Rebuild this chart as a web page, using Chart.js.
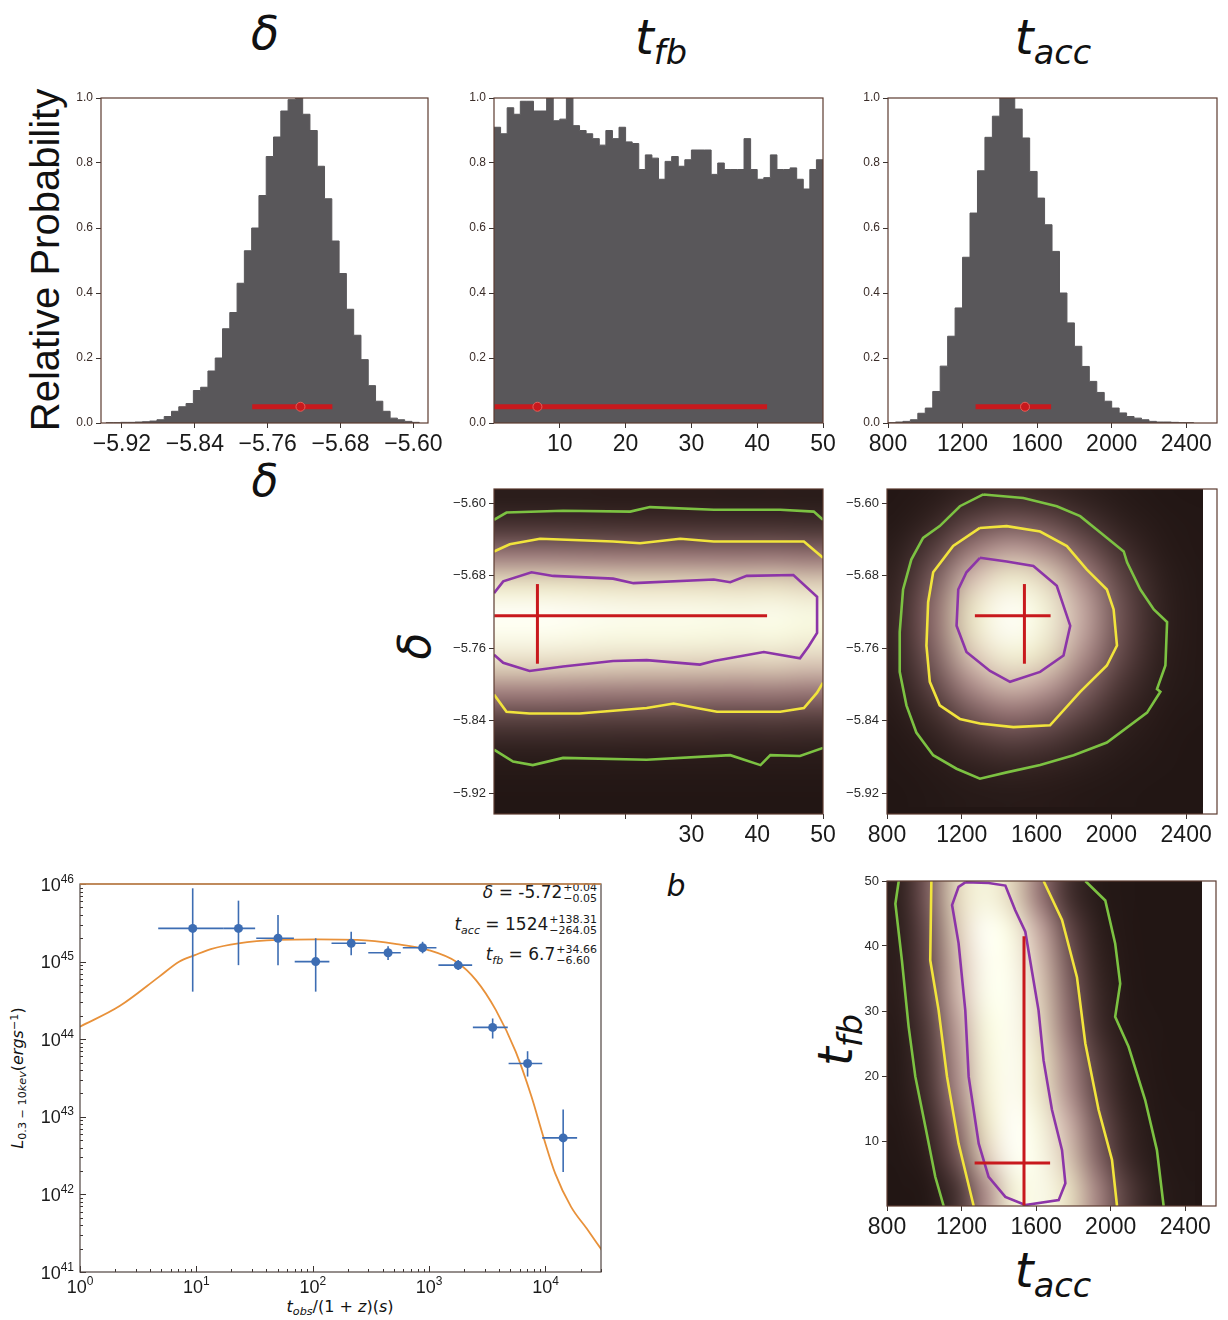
<!DOCTYPE html>
<html>
<head>
<meta charset="utf-8">
<title>Posterior corner plot and light curve</title>
<script src="https://cdn.jsdelivr.net/npm/chart.js@4.4.1/dist/chart.umd.min.js"></script>
<style>
  html, body { margin:0; padding:0; background:#fff; }
  body { position:relative; width:1228px; height:1320px; overflow:hidden; font-family:"Liberation Sans", Arial, sans-serif; color:#111; }
  canvas { position:absolute; }
  .t { position:absolute; transform:translate(-50%,-50%); white-space:nowrap; line-height:1; }
  .m { font-family:"DejaVu Sans", sans-serif; font-style:italic; }
  .t sub { font-size:0.7em; vertical-align:-0.3em; line-height:0; }
  .t sup { font-size:0.7em; vertical-align:0.45em; line-height:0; }
  .ann { position:absolute; right:631px; transform:translateY(-50%); white-space:nowrap; font-family:"DejaVu Sans", sans-serif; font-size:17px; line-height:1; color:#1a1a1a; }
  .ss { display:inline-block; vertical-align:middle; font-size:11px; line-height:11px; margin-left:1px; }
  .ss span { display:block; }
</style>
</head>
<body>

<div class="t m" style="left:265px;top:33px;font-size:46px">δ</div>
<div class="t m" style="left:661px;top:37px;font-size:48px">t<sub>fb</sub></div>
<div class="t m" style="left:1053px;top:37px;font-size:48px">t<sub>acc</sub></div>
<div class="t" style="left:45px;top:260px;font-size:40px;transform:translate(-50%,-50%) rotate(-90deg)">Relative Probability</div>
<div class="t m" style="left:265px;top:481px;font-size:44px">δ</div>
<div class="t m" style="left:415px;top:646px;font-size:44px;transform:translate(-50%,-50%) rotate(-90deg)">δ</div>
<div class="t m" style="left:676px;top:886px;font-size:30px">b</div>
<div class="t m" style="left:835px;top:1040px;font-size:48px;transform:translate(-50%,-50%) rotate(-90deg)">t<sub>fb</sub></div>
<div class="t m" style="left:1053px;top:1270px;font-size:48px">t<sub>acc</sub></div>

<div class="ann" style="top:893px"><span class="m">δ</span> = -5.72<span class="ss"><span>+0.04</span><span>−0.05</span></span></div>
<div class="ann" style="top:925px"><span class="m">t</span><sub style="font-size:11px" class="m">acc</sub> = 1524<span class="ss"><span>+138.31</span><span>−264.05</span></span></div>
<div class="ann" style="top:955px"><span class="m">t</span><sub style="font-size:11px" class="m">fb</sub> = 6.7<span class="ss"><span>+34.66</span><span>−6.60</span></span></div>
<div class="t" style="left:340px;top:1307px;font-size:16px;font-family:'DejaVu Sans'"><i>t</i><sub><i>obs</i></sub>/(1 + <i>z</i>)(<i>s</i>)</div>
<div class="t" style="left:18px;top:1078px;font-size:16px;font-family:'DejaVu Sans';transform:translate(-50%,-50%) rotate(-90deg)"><i>L</i><sub>0.3 − 10<i>kev</i></sub>(<i>ergs</i><sup>−1</sup>)</div>

<script>
// ---------------- data ----------------
// marginal histograms: relative probability per equal-width bin
const deltaBinStart = -5.9376, deltaBinWidth = 0.008;
const deltaHist = [0.001, 0.001, 0.002, 0.002, 0.003, 0.004, 0.006,
  0.01, 0.02, 0.036, 0.05, 0.06, 0.1, 0.11, 0.16, 0.2, 0.29, 0.34, 0.43, 0.53, 0.6,
  0.7, 0.82, 0.88, 0.96, 0.995, 1.0, 0.95, 0.9, 0.79, 0.69, 0.56, 0.46, 0.35, 0.27,
  0.195, 0.115, 0.067, 0.036, 0.015, 0.01, 0.005, 0.002];

const tfbBinStart = 0, tfbBinWidth = 1;
const tfbHist = [0.91, 0.89, 0.97, 0.95, 0.99, 0.99, 0.96, 0.96, 1.0, 0.93,
  0.935, 1.0, 0.915, 0.9, 0.89, 0.875, 0.855, 0.9, 0.875, 0.91,
  0.865, 0.86, 0.78, 0.825, 0.815, 0.75, 0.805, 0.82, 0.79, 0.81,
  0.84, 0.84, 0.84, 0.765, 0.8, 0.78, 0.78, 0.78, 0.875, 0.78,
  0.75, 0.755, 0.825, 0.78, 0.78, 0.785, 0.75, 0.72, 0.78, 0.81];

const taccBinStart = 800, taccBinWidth = 40;
const taccHist = [0.001, 0.003, 0.005, 0.01, 0.03, 0.046, 0.097, 0.175, 0.267, 0.354,
  0.51, 0.646, 0.776, 0.879, 0.944, 1.0, 1.0, 0.966, 0.877, 0.774,
  0.692, 0.61, 0.528, 0.4, 0.308, 0.236, 0.174, 0.128, 0.094, 0.067,
  0.046, 0.031, 0.02, 0.015, 0.01, 0.005, 0.003, 0.003, 0.002, 0.001, 0.001];

// best fit with range: [low, best, high]
const deltaFit = [-5.777, -5.724, -5.689];
const tfbFit = [0.05, 6.6, 41.5];
const taccFit = [1270, 1535, 1675];
const fitBarLevel = 0.05;

// tick values
const probTicks = [0, 0.2, 0.4, 0.6, 0.8, 1.0];
const deltaTicks = [-5.92, -5.84, -5.76, -5.68, -5.60];
const tfbTicks = [10, 20, 30, 40, 50];
const taccTicks = [800, 1200, 1600, 2000, 2400];
const lcXDecades = [0, 1, 2, 3, 4];
const lcYDecades = [41, 42, 43, 44, 45, 46];

// 2D density grids (rows top to bottom)
const p4Cols = [2.5, 7.5, 12.5, 17.5, 22.5, 27.5, 32.5, 37.5, 42.5, 47.5];
const p4Rows = [-5.60, -5.63, -5.66, -5.69, -5.72, -5.75, -5.78, -5.81, -5.84, -5.87, -5.90, -5.93];
const p4Grid = [
  [0.025, 0.025, 0.025, 0.024, 0.024, 0.024, 0.024, 0.023, 0.024, 0.022],
  [0.114, 0.114, 0.112, 0.109, 0.108, 0.108, 0.107, 0.106, 0.107, 0.103],
  [0.351, 0.351, 0.344, 0.337, 0.333, 0.333, 0.330, 0.326, 0.330, 0.316],
  [0.721, 0.721, 0.707, 0.692, 0.685, 0.685, 0.678, 0.671, 0.678, 0.649],
  [0.986, 0.986, 0.966, 0.947, 0.937, 0.937, 0.927, 0.917, 0.927, 0.887],
  [0.923, 0.923, 0.905, 0.886, 0.877, 0.877, 0.868, 0.858, 0.868, 0.831],
  [0.640, 0.640, 0.627, 0.614, 0.608, 0.608, 0.602, 0.595, 0.602, 0.576],
  [0.329, 0.329, 0.322, 0.316, 0.313, 0.313, 0.309, 0.306, 0.309, 0.296],
  [0.126, 0.126, 0.123, 0.121, 0.120, 0.120, 0.118, 0.117, 0.118, 0.113],
  [0.036, 0.036, 0.035, 0.035, 0.034, 0.034, 0.034, 0.033, 0.034, 0.032],
  [0.008, 0.008, 0.007, 0.007, 0.007, 0.007, 0.007, 0.007, 0.007, 0.007],
  [0.001, 0.001, 0.001, 0.001, 0.001, 0.001, 0.001, 0.001, 0.001, 0.001]
];

const p5Cols = [850, 1050, 1250, 1450, 1650, 1850, 2050, 2250, 2450];
const p5Rows = [-5.59, -5.62, -5.65, -5.68, -5.71, -5.74, -5.77, -5.80, -5.83, -5.86, -5.89, -5.92];
const p5Grid = [
  [0.004, 0.018, 0.047, 0.067, 0.056, 0.032, 0.012, 0.003, 0.001],
  [0.011, 0.053, 0.138, 0.194, 0.163, 0.092, 0.035, 0.009, 0.002],
  [0.025, 0.119, 0.309, 0.434, 0.364, 0.206, 0.079, 0.021, 0.004],
  [0.042, 0.203, 0.527, 0.741, 0.622, 0.352, 0.135, 0.035, 0.006],
  [0.055, 0.264, 0.687, 0.966, 0.811, 0.458, 0.176, 0.046, 0.008],
  [0.056, 0.267, 0.694, 0.975, 0.819, 0.463, 0.178, 0.046, 0.008],
  [0.046, 0.220, 0.571, 0.803, 0.674, 0.381, 0.147, 0.038, 0.007],
  [0.031, 0.149, 0.387, 0.543, 0.456, 0.258, 0.099, 0.026, 0.005],
  [0.017, 0.083, 0.217, 0.304, 0.255, 0.144, 0.056, 0.014, 0.003],
  [0.008, 0.038, 0.099, 0.139, 0.117, 0.066, 0.025, 0.007, 0.001],
  [0.003, 0.014, 0.037, 0.053, 0.044, 0.025, 0.010, 0.003, 0.000],
  [0.001, 0.005, 0.012, 0.016, 0.014, 0.008, 0.003, 0.001, 0.000]
];

const p6Cols = [875, 1025, 1175, 1325, 1475, 1625, 1775, 1925, 2075, 2225, 2375];
const p6Rows = [47.5, 42.5, 37.5, 32.5, 27.5, 22.5, 17.5, 12.5, 7.5, 2.5];
const p6Grid = [
  [0.040, 0.233, 0.654, 0.878, 0.656, 0.301, 0.085, 0.015, 0.002, 0, 0],
  [0.032, 0.194, 0.607, 0.982, 0.867, 0.468, 0.155, 0.032, 0.004, 0, 0],
  [0.029, 0.172, 0.550, 0.952, 0.920, 0.552, 0.208, 0.049, 0.007, 0.001, 0],
  [0.027, 0.157, 0.514, 0.929, 0.946, 0.607, 0.249, 0.066, 0.011, 0.001, 0],
  [0.020, 0.126, 0.445, 0.870, 0.951, 0.647, 0.282, 0.079, 0.014, 0.002, 0],
  [0.016, 0.106, 0.399, 0.827, 0.957, 0.709, 0.355, 0.121, 0.028, 0.004, 0.001],
  [0.013, 0.090, 0.359, 0.790, 0.965, 0.752, 0.402, 0.148, 0.038, 0.007, 0.001],
  [0.007, 0.058, 0.271, 0.699, 0.997, 0.859, 0.508, 0.207, 0.058, 0.011, 0.002],
  [0.003, 0.034, 0.192, 0.591, 0.972, 0.912, 0.582, 0.255, 0.077, 0.016, 0.002],
  [0.001, 0.011, 0.092, 0.381, 0.821, 0.931, 0.690, 0.357, 0.129, 0.032, 0.006]
];

// contours [x, y]
const p4GreenTop = [[0,-5.618],[1.9,-5.610],[10.5,-5.608],[20.7,-5.609],[23.7,-5.604],[33.4,-5.607],[43.5,-5.607],[48.6,-5.609],[50,-5.618]];
const p4YellowTop = [[0,-5.653],[2.4,-5.645],[7,-5.639],[18.1,-5.642],[22.2,-5.644],[28.3,-5.639],[33.4,-5.642],[47.1,-5.642],[50,-5.660]];
const p4Purple = [[0,-5.699],[1.4,-5.686],[5.7,-5.676],[9,-5.680],[18.1,-5.683],[21.2,-5.688],[33.4,-5.684],[35.9,-5.687],[38.4,-5.680],[45.5,-5.679],[49.1,-5.703],[49.1,-5.743],[47.8,-5.758],[46.5,-5.771],[41,-5.764],[33.4,-5.774],[31.3,-5.778],[23.2,-5.773],[18.1,-5.774],[10.5,-5.780],[5.4,-5.785],[1.4,-5.776],[0,-5.767]];
const p4YellowBot = [[0,-5.811],[1.9,-5.830],[5.4,-5.832],[13,-5.832],[23.2,-5.826],[27.3,-5.821],[30.8,-5.826],[33.9,-5.830],[43.5,-5.830],[47.1,-5.826],[49.1,-5.809],[50,-5.798]];
const p4GreenBot = [[0,-5.872],[2.9,-5.885],[5.9,-5.889],[10.5,-5.881],[23.2,-5.883],[35.9,-5.878],[40.5,-5.889],[42,-5.878],[46.5,-5.879],[50,-5.870]];

const p5Green = [[1315,-5.590],[1529,-5.594],[1708,-5.603],[1833,-5.614],[1941,-5.632],[2066,-5.653],[2084,-5.665],[2155,-5.695],[2227,-5.717],[2298,-5.731],[2289,-5.779],[2244,-5.805],[2262,-5.808],[2191,-5.831],[1976,-5.864],[1798,-5.878],[1619,-5.889],[1440,-5.897],[1297,-5.904],[1172,-5.893],[1047,-5.878],[957,-5.853],[904,-5.823],[868,-5.786],[868,-5.742],[886,-5.695],[930,-5.662],[993,-5.638],[1082,-5.625],[1190,-5.603],[1315,-5.590]];
const p5Yellow = [[1297,-5.627],[1440,-5.625],[1619,-5.631],[1762,-5.647],[1869,-5.673],[1976,-5.695],[2012,-5.717],[2030,-5.757],[1976,-5.779],[1833,-5.808],[1672,-5.845],[1476,-5.847],[1297,-5.843],[1190,-5.838],[1082,-5.823],[1029,-5.797],[1011,-5.757],[1020,-5.709],[1047,-5.676],[1154,-5.647],[1297,-5.627]];
const p5Purple = [[1297,-5.660],[1440,-5.664],[1583,-5.669],[1708,-5.691],[1780,-5.735],[1744,-5.768],[1619,-5.786],[1458,-5.797],[1351,-5.785],[1225,-5.764],[1172,-5.735],[1181,-5.695],[1225,-5.676],[1297,-5.660]];

const p6GreenL = [[863,50],[845,46.5],[880,37.8],[916,27.6],[952,19.9],[1006,12.2],[1059,4.5],[1104,0]];
const p6GreenR = [[1864,50],[1971,47],[2024,40.4],[2051,34.2],[2024,29.1],[2096,24.5],[2185,16.3],[2248,8.6],[2284,0]];
const p6YellowL = [[1038,50],[1032,37.8],[1077,30.1],[1122,19.9],[1184,9.6],[1265,0]];
const p6YellowR = [[1640,50],[1739,44],[1819,35.2],[1864,25],[1935,14.8],[2007,7.1],[2034,0]];
const p6Purple = [[1220,49.8],[1345,49.7],[1435,49.3],[1488,45.5],[1542,42.2],[1613,30.1],[1640,22.4],[1685,14.8],[1739,8.6],[1757,3.5],[1721,0.9],[1542,0.15],[1435,1.4],[1345,4.5],[1292,9.6],[1238,19.9],[1220,30.1],[1184,40.4],[1149,46.3],[1184,49.1],[1220,49.8]];

// light curve
const lcTime   = [9.3, 23, 50.3, 106, 214, 444, 879, 1778, 3516, 7017, 14190];
const lcTimeLo = [4.7, 17, 32.7, 70, 145, 300, 594, 1202, 2377, 4820, 9376];
const lcTimeHi = [17, 32, 68.9, 139, 286, 571, 1156, 2344, 4742, 9376, 18700];
const lcLum    = [2.68e45, 2.68e45, 2.0e45, 1.0e45, 1.72e45, 1.30e45, 1.51e45, 9.0e44, 1.42e44, 4.87e43, 5.35e42];
const lcLumLo  = [4.1e44, 9.0e44, 9.0e44, 4.1e44, 1.21e45, 1.05e45, 1.28e45, 7.8e44, 1.02e44, 3.3e43, 1.95e42];
const lcLumHi  = [8.8e45, 6.1e45, 4.0e45, 2.0e45, 2.43e45, 1.58e45, 1.8e45, 1.05e45, 1.85e44, 7.0e43, 1.24e43];
const modelTime = [1, 2.19, 4.8, 7.1, 9.7, 13.3, 23, 50, 110, 241, 528, 988, 1711, 2529, 3750, 5547, 7590, 9600, 12140, 16600, 22700, 30600];
const modelLum  = [1.45e44, 2.67e44, 6.4e44, 9.96e44, 1.21e45, 1.45e45, 1.72e45, 1.9e45, 1.93e45, 1.9e45, 1.68e45, 1.41e45, 9.96e44, 5.78e44, 2.37e44, 6.9e43, 1.81e43, 5.5e42, 1.85e42, 6.9e41, 3.6e41, 1.9e41];

// ---------------- styles ----------------
const HIST = '#59575a', RED = '#c8191d', GREEN = '#7cc242', YELLOW = '#f1e43c', PURPLE = '#8c35a8';
const BLUE = '#3d6db3', ORANGE = '#e8913a', FRAME = '#5c3b30';
const CMAP = [[0, 34, 22, 20], [0.05, 54, 37, 35], [0.15, 98, 72, 72], [0.3, 150, 116, 116],
  [0.5, 202, 174, 166], [0.7, 232, 224, 194], [0.88, 247, 246, 222], [1, 255, 255, 248]];

Chart.defaults.font.family = '"Liberation Sans", Arial, sans-serif';
Chart.defaults.elements.point.radius = 0;
Chart.defaults.elements.line.tension = 0;

function cmap(v) {
  v = Math.max(0, Math.min(1, v));
  for (let i = 1; i < CMAP.length; i++) {
    if (v <= CMAP[i][0]) {
      const a = CMAP[i - 1], b = CMAP[i], f = (v - a[0]) / (b[0] - a[0]);
      return [1, 2, 3].map(k => Math.round(a[k] + f * (b[k] - a[k])));
    }
  }
  return CMAP[CMAP.length - 1].slice(1);
}

const pts = arr => arr.map(p => ({x: p[0], y: p[1]}));
const fmtMinus = v => v.toFixed(2).replace('-', '\u2212');
function zeroPad(s) { s.paddingLeft = s.paddingRight = s.paddingTop = s.paddingBottom = 0; }

function axis(min, max, tickList, fmt, size, color) {
  return {
    type: 'linear', min, max,
    afterBuildTicks: s => { s.ticks = tickList.map(v => ({value: v})); },
    ticks: {autoSkip: false, maxRotation: 0, minRotation: 0, padding: 3, color: color || '#1a1a1a',
      font: {size}, callback: fmt},
    grid: {display: true, drawOnChartArea: false, drawTicks: true, tickLength: 5, color: '#3a3330', lineWidth: 1},
    border: {display: false}
  };
}

function framePlugin(color, topColor) {
  return {id: 'frame', afterDraw(c) {
    const {ctx, chartArea: a} = c;
    ctx.save();
    ctx.lineWidth = 1.2;
    ctx.strokeStyle = color;
    ctx.strokeRect(a.left, a.top, a.right - a.left, a.bottom - a.top);
    if (topColor) {
      ctx.strokeStyle = topColor; ctx.lineWidth = 1.5;
      ctx.beginPath(); ctx.moveTo(a.left, a.top); ctx.lineTo(a.right, a.top); ctx.stroke();
    }
    ctx.restore();
  }};
}

function heatPlugin(cols, rows, grid, xLim) {
  return {id: 'heat', beforeDatasetsDraw(c) {
    const {ctx, chartArea: a, scales: {x, y}} = c;
    const x0 = x.getPixelForValue(xLim[0]), x1 = x.getPixelForValue(xLim[1]);
    ctx.save();
    ctx.beginPath(); ctx.rect(x0, a.top, x1 - x0, a.bottom - a.top); ctx.clip();
    ctx.fillStyle = 'rgb(' + cmap(0) + ')';
    ctx.fillRect(x0, a.top, x1 - x0, a.bottom - a.top);
    const off = document.createElement('canvas');
    off.width = cols.length; off.height = rows.length;
    const octx = off.getContext('2d');
    const img = octx.createImageData(cols.length, rows.length);
    grid.forEach((row, r) => row.forEach((v, k) => {
      const rgb = cmap(v), i = 4 * (r * cols.length + k);
      img.data[i] = rgb[0]; img.data[i + 1] = rgb[1]; img.data[i + 2] = rgb[2]; img.data[i + 3] = 255;
    }));
    octx.putImageData(img, 0, 0);
    const hx = (cols[1] - cols[0]) / 2, hy = (rows[0] - rows[1]) / 2;
    const px0 = x.getPixelForValue(cols[0] - hx), px1 = x.getPixelForValue(cols[cols.length - 1] + hx);
    const py0 = y.getPixelForValue(rows[0] + hy), py1 = y.getPixelForValue(rows[rows.length - 1] - hy);
    ctx.imageSmoothingEnabled = true;
    ctx.imageSmoothingQuality = 'high';
    ctx.drawImage(off, px0, py0, px1 - px0, py1 - py0);
    ctx.restore();
  }};
}

function makeChart(box, m, datasets, scales, plugins, hideAxes) {
  const cv = document.createElement('canvas');
  const W = box.w + m.l + m.r, H = box.h + m.t + m.b;
  cv.width = W; cv.height = H;
  Object.assign(cv.style, {left: (box.l - m.l) + 'px', top: (box.t - m.t) + 'px', width: W + 'px', height: H + 'px'});
  document.body.appendChild(cv);
  if (!hideAxes) {
    scales.x.afterFit = s => { s.height = m.b; zeroPad(s); };
    scales.y.afterFit = s => { s.width = m.l; zeroPad(s); };
  }
  return new Chart(cv, {
    type: 'line',
    data: {datasets},
    options: {
      responsive: false, animation: false, events: [],
      layout: {autoPadding: false,
        padding: hideAxes ? {left: m.l, right: m.r, top: m.t, bottom: m.b} : {left: 0, right: m.r, top: m.t, bottom: 0}},
      plugins: {legend: {display: false}, tooltip: {enabled: false}},
      scales
    },
    plugins
  });
}

function histSet(start, width, heights) {
  const data = heights.map((h, i) => ({x: start + i * width, y: h}));
  data.push({x: start + heights.length * width, y: 0});
  return {data, stepped: true, fill: 'origin', backgroundColor: HIST, borderColor: HIST, borderWidth: 1, pointRadius: 0};
}

function fitSets(fit) {
  return [
    {data: [{x: fit[1], y: fitBarLevel}], showLine: false, pointRadius: 4.5,
      pointBackgroundColor: RED, pointBorderColor: '#e0605a', pointBorderWidth: 1},
    {data: [{x: fit[0], y: fitBarLevel}, {x: fit[2], y: fitBarLevel}], borderColor: RED, borderWidth: 5, borderCapStyle: 'butt'}
  ];
}

const lineSet = (arr, color, w) => ({data: pts(arr), borderColor: color, borderWidth: w || 2.6, fill: false, pointRadius: 0});

// ---------------- layout ----------------
const box = {
  p1: {l: 101, t: 98, w: 327, h: 325},
  p2: {l: 494, t: 98, w: 329, h: 325},
  p3: {l: 888, t: 98, w: 329, h: 325},
  p4: {l: 494, t: 489, w: 329, h: 325},
  p5: {l: 887, t: 489, w: 330, h: 325},
  p6: {l: 887, t: 881, w: 329, h: 325},
  p7: {l: 80, t: 884, w: 521, h: 388}
};
const M = {l: 62, r: 30, t: 12, b: 52};
const deltaRange = [-5.943, -5.584], tfbRange = [0, 50], taccRange = [800, 2565];
const tfbLabel = v => (v === 0 ? '' : String(v));
const probAxis = () => axis(0, 1, probTicks, v => v.toFixed(1), 12, '#3a2c28');

// top row: marginals
makeChart(box.p1, M, [...fitSets(deltaFit), histSet(deltaBinStart, deltaBinWidth, deltaHist)],
  {x: axis(deltaRange[0], deltaRange[1], deltaTicks, fmtMinus, 23), y: probAxis()},
  [framePlugin(FRAME)]);

makeChart(box.p2, M, [...fitSets(tfbFit), histSet(tfbBinStart, tfbBinWidth, tfbHist)],
  {x: axis(tfbRange[0], tfbRange[1], tfbTicks, tfbLabel, 23), y: probAxis()},
  [framePlugin(FRAME)]);

makeChart(box.p3, M, [...fitSets(taccFit), histSet(taccBinStart, taccBinWidth, taccHist)],
  {x: axis(taccRange[0], taccRange[1], taccTicks, v => String(v), 23), y: probAxis()},
  [framePlugin(FRAME)]);

// middle row: delta vs t_fb, delta vs t_acc
makeChart(box.p4, M, [
    lineSet([[tfbFit[0], deltaFit[1]], [tfbFit[2], deltaFit[1]]], RED, 3),
    lineSet([[tfbFit[1], deltaFit[0]], [tfbFit[1], deltaFit[2]]], RED, 3),
    lineSet(p4Purple, PURPLE), lineSet(p4YellowTop, YELLOW), lineSet(p4YellowBot, YELLOW),
    lineSet(p4GreenTop, GREEN), lineSet(p4GreenBot, GREEN)
  ],
  {x: axis(tfbRange[0], tfbRange[1], tfbTicks, v => (v >= 30 ? String(v) : ''), 23),
   y: axis(deltaRange[0], deltaRange[1], deltaTicks, fmtMinus, 13, '#2a2a2a')},
  [heatPlugin(p4Cols, p4Rows, p4Grid, tfbRange), framePlugin(FRAME)]);

makeChart(box.p5, M, [
    lineSet([[taccFit[0], deltaFit[1]], [taccFit[2], deltaFit[1]]], RED, 3),
    lineSet([[taccFit[1], deltaFit[0]], [taccFit[1], deltaFit[2]]], RED, 3),
    lineSet(p5Purple, PURPLE), lineSet(p5Yellow, YELLOW), lineSet(p5Green, GREEN)
  ],
  {x: axis(taccRange[0], taccRange[1], taccTicks, v => String(v), 23),
   y: axis(deltaRange[0], deltaRange[1], deltaTicks, fmtMinus, 13, '#2a2a2a')},
  [heatPlugin(p5Cols, p5Rows, p5Grid, [800, 2490]), framePlugin(FRAME)]);

// bottom right: t_fb vs t_acc
makeChart(box.p6, M, [
    lineSet([[taccFit[1], tfbFit[0]], [taccFit[1], tfbFit[2]]], RED, 3),
    lineSet([[taccFit[0], tfbFit[1]], [taccFit[2], tfbFit[1]]], RED, 3),
    lineSet(p6Purple, PURPLE), lineSet(p6YellowL, YELLOW), lineSet(p6YellowR, YELLOW),
    lineSet(p6GreenL, GREEN), lineSet(p6GreenR, GREEN)
  ],
  {x: axis(taccRange[0], taccRange[1], taccTicks, v => String(v), 23),
   y: axis(tfbRange[0], tfbRange[1], tfbTicks, tfbLabel, 13, '#2a2a2a')},
  [heatPlugin(p6Cols, p6Rows, p6Grid, [800, 2490]), framePlugin(FRAME)]);

// bottom left: light curve
const logAxes = {id: 'logaxes', afterDraw(c) {
  const {ctx, chartArea: a, scales: {x, y}} = c;
  ctx.save();
  ctx.strokeStyle = '#3a3330'; ctx.lineWidth = 1;
  ctx.beginPath();
  lcXDecades.forEach(e => {
    for (let k = 1; k <= 9; k++) {
      const v = k * Math.pow(10, e);
      if (v > x.max * 1.0001) continue;
      const px = Math.round(x.getPixelForValue(v)) + 0.5, len = k === 1 ? 6 : 3;
      ctx.moveTo(px, a.bottom); ctx.lineTo(px, a.bottom - len);
    }
  });
  lcYDecades.forEach(e => {
    for (let k = 1; k <= 9; k++) {
      const v = k * Math.pow(10, e);
      if (v > y.max * 1.0001) continue;
      const py = Math.round(y.getPixelForValue(v)) + 0.5, len = k === 1 ? 6 : 3;
      ctx.moveTo(a.left, py); ctx.lineTo(a.left + len, py);
    }
  });
  ctx.stroke();
  ctx.fillStyle = '#1a1a1a';
  ctx.textAlign = 'left'; ctx.textBaseline = 'alphabetic';
  const big = '18px "Liberation Sans"', small = '12px "Liberation Sans"';
  function powLabel(e, ax, base, alignRight) {
    ctx.font = big; const w1 = ctx.measureText('10').width;
    ctx.font = small; const w2 = ctx.measureText(String(e)).width;
    const start = alignRight ? ax - w1 - w2 : ax - (w1 + w2) / 2;
    ctx.font = big; ctx.fillText('10', start, base);
    ctx.font = small; ctx.fillText(String(e), start + w1, base - 8);
  }
  lcXDecades.forEach(e => powLabel(e, x.getPixelForValue(Math.pow(10, e)), a.bottom + 21, false));
  lcYDecades.forEach(e => powLabel(e, a.left - 6, y.getPixelForValue(Math.pow(10, e)) + 6.5, true));
  ctx.restore();
}};

const lcSets = [{data: lcTime.map((t, i) => ({x: t, y: lcLum[i]})), showLine: false, pointRadius: 4.5,
  pointBackgroundColor: BLUE, pointBorderWidth: 0}];
lcTime.forEach((t, i) => {
  lcSets.push({data: [{x: lcTimeLo[i], y: lcLum[i]}, {x: lcTimeHi[i], y: lcLum[i]}], borderColor: BLUE, borderWidth: 1.6});
  lcSets.push({data: [{x: t, y: lcLumLo[i]}, {x: t, y: lcLumHi[i]}], borderColor: BLUE, borderWidth: 1.6});
});
lcSets.push({data: modelTime.map((t, i) => ({x: t, y: modelLum[i]})), borderColor: ORANGE, borderWidth: 1.8,
  cubicInterpolationMode: 'monotone'});

makeChart(box.p7, {l: 80, r: 20, t: 16, b: 34}, lcSets,
  {x: {type: 'logarithmic', min: 1, max: 30000, display: false},
   y: {type: 'logarithmic', min: 1e41, max: 1e46, display: false}},
  [logAxes, framePlugin('#4f4440', '#cf8a4e')], true);
</script>
</body>
</html>
